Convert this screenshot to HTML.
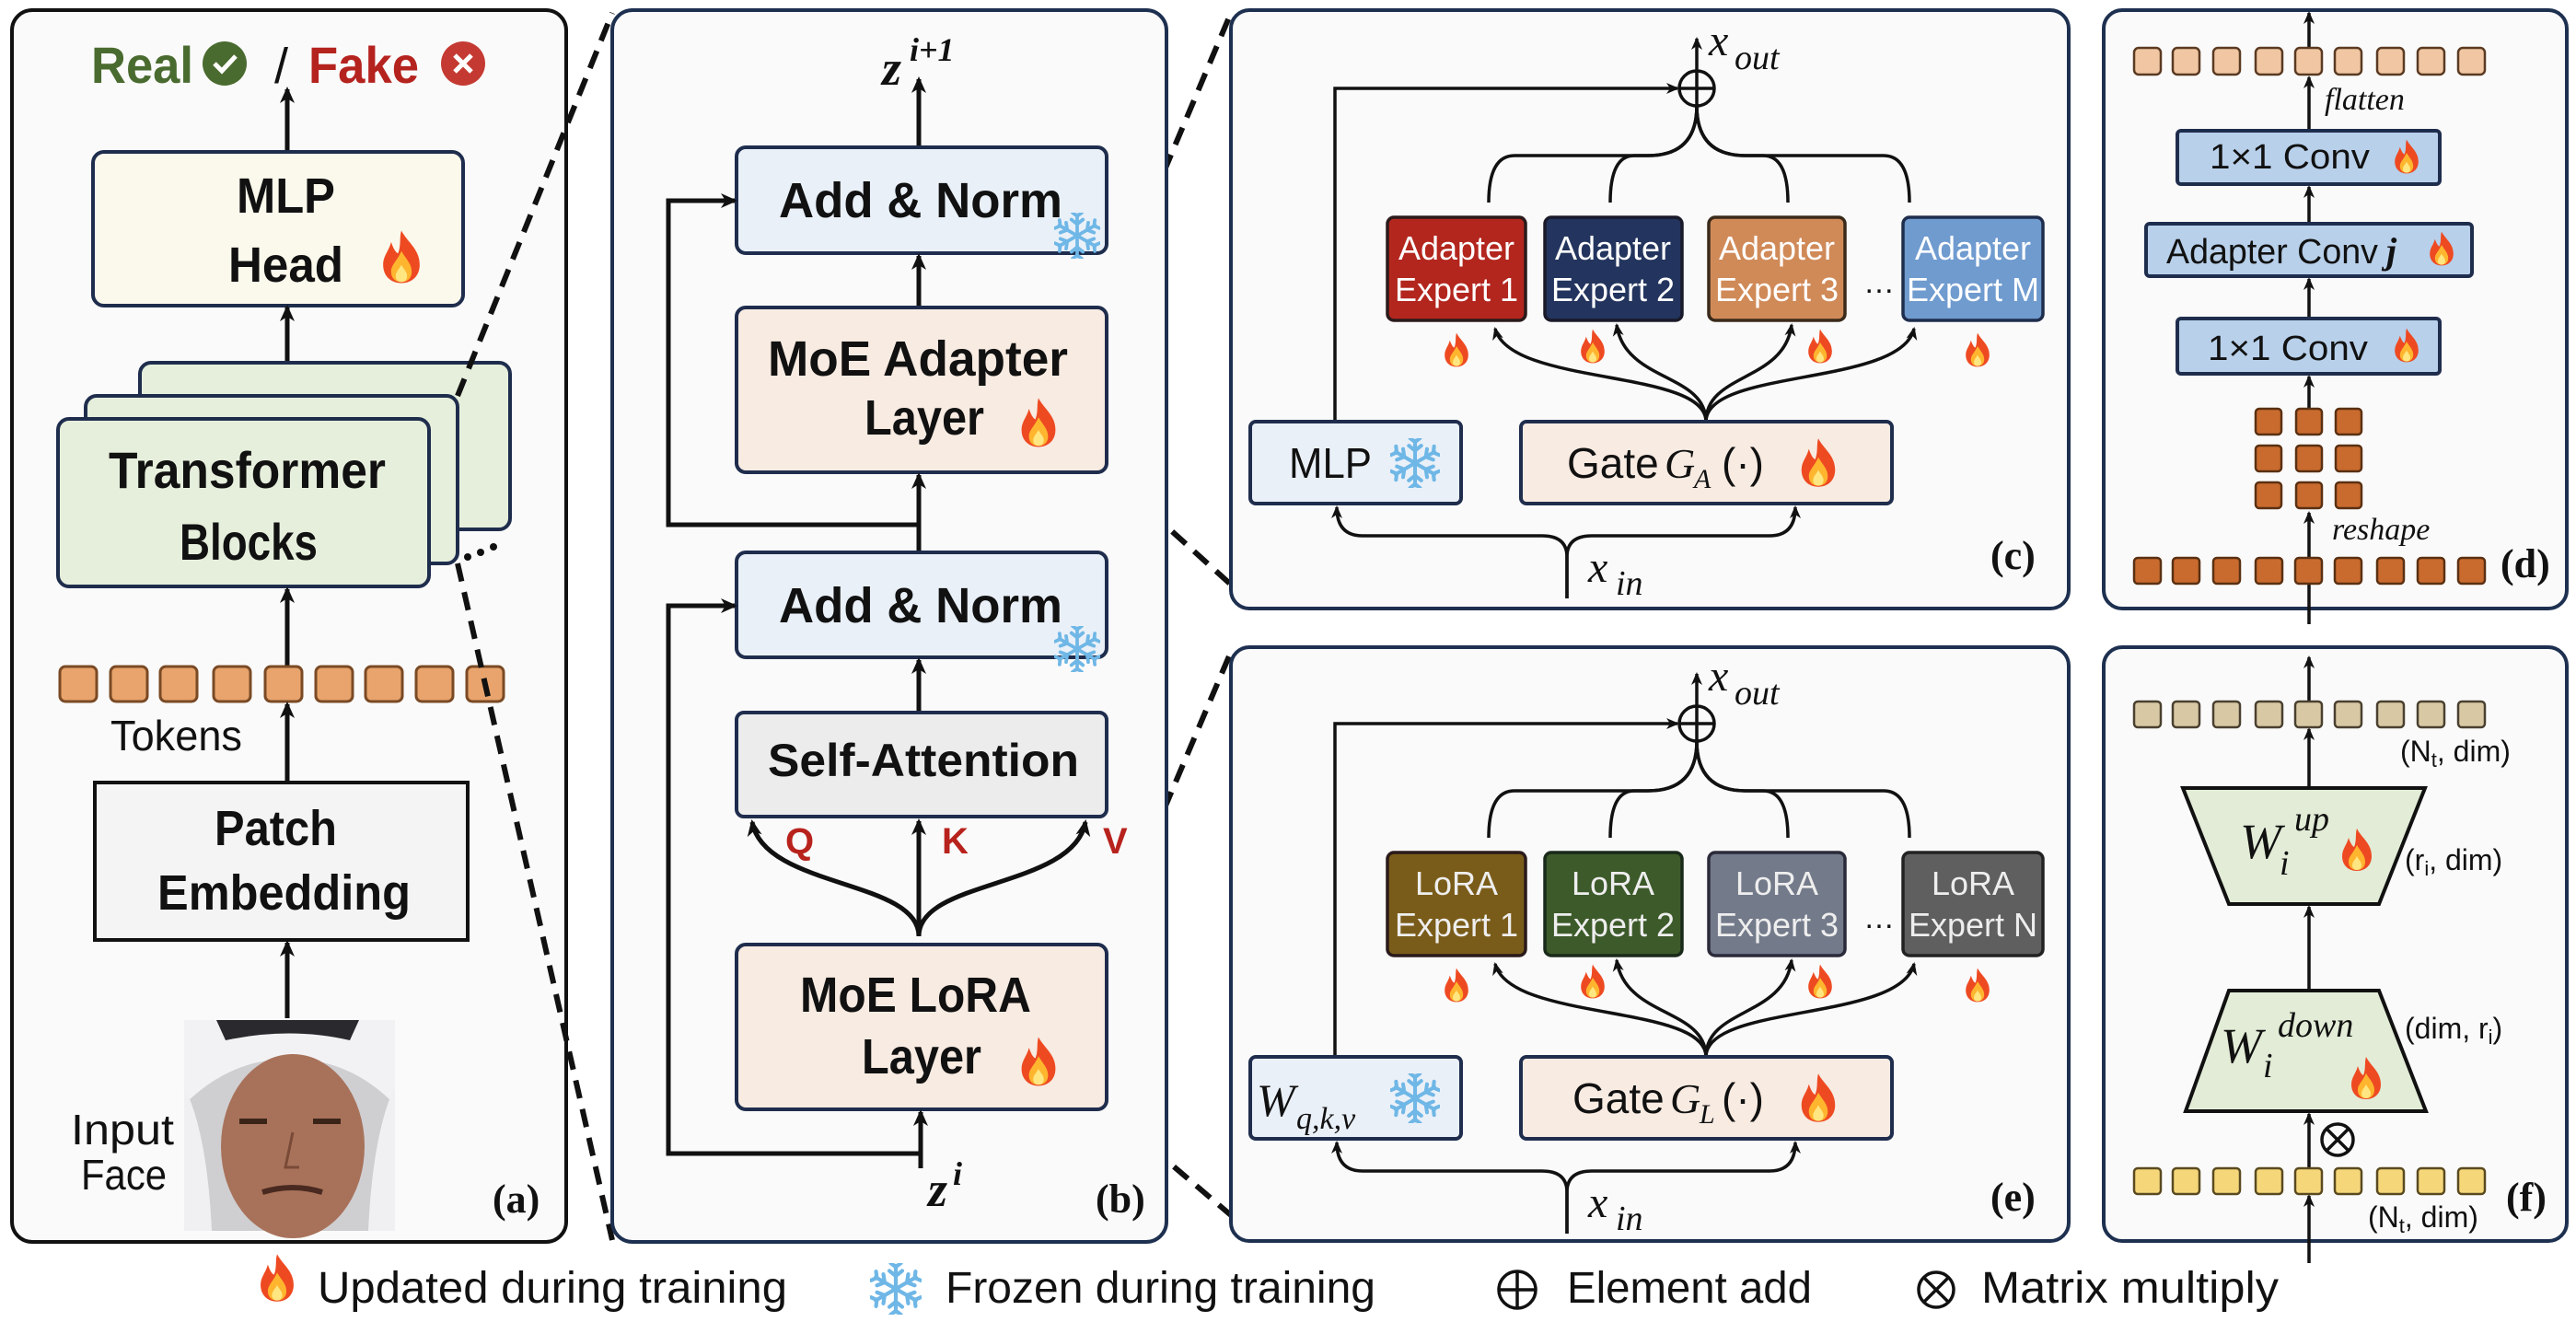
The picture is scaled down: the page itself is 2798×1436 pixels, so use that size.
<!DOCTYPE html>
<html><head><meta charset="utf-8"><style>
html,body{margin:0;padding:0;background:#fff}
svg{display:block}
.b{font-family:"Liberation Sans",sans-serif;font-weight:bold;fill:#111}
.n{font-family:"Liberation Sans",sans-serif;fill:#111}
.m{font-family:"Liberation Serif",serif;font-style:italic;fill:#111}
.s{font-family:"Liberation Serif",serif;font-weight:bold;fill:#111}
</style></head><body>
<svg width="2798" height="1436" viewBox="0 0 2798 1436" xmlns="http://www.w3.org/2000/svg">
<defs>
<marker id="ah" markerWidth="18" markerHeight="18" refX="15" refY="9" orient="auto" markerUnits="userSpaceOnUse"><path d="M0,1 L18,9 L0,17 L5,9 Z" fill="#111"/></marker>
<marker id="as" markerWidth="14" markerHeight="14" refX="12" refY="7" orient="auto" markerUnits="userSpaceOnUse"><path d="M0,1 L14,7 L0,13 L4,7 Z" fill="#111"/></marker>
<symbol id="fl" viewBox="0 0 40 50"><path d="M20 2 C25 12 36 18 36 32 C36 42 29 48 20 48 C11 48 4 42 4 32 C4 24 9 20 11 12 C13 18 15 21 17 22 C20 15 18 8 20 2Z" fill="#ee4a22"/><path d="M20 20 C24 27 29 31 29 38 C29 44 25 47 20 47 C15 47 11 44 11 38 C11 32 16 29 20 20Z" fill="#ffb52e"/><path d="M20 32 C22 36 25 38 25 42 C25 45 23 47 20 47 C17 47 15 45 15 42 C15 38 18 36 20 32Z" fill="#ffe680"/></symbol>
<symbol id="sn" viewBox="-20 -20 40 40"><g stroke="#6fb7e6" stroke-width="3" stroke-linecap="round" fill="none">
<g id="sp"><path d="M0 0 L0 -18 M-5 -14 L0 -10 L5 -14 M-4 -20 L0 -17 L4 -20"/></g>
<use href="#sp" transform="rotate(60)"/><use href="#sp" transform="rotate(120)"/><use href="#sp" transform="rotate(180)"/><use href="#sp" transform="rotate(240)"/><use href="#sp" transform="rotate(300)"/></g></symbol>
</defs>

<!-- ===== Panel a ===== -->
<rect x="13" y="11" width="602" height="1338" rx="22" fill="#fafafa" stroke="#111" stroke-width="4"/>
<text class="b" x="99" y="90" font-size="56" fill="#4a6b2f" style="fill:#4a6b2f" textLength="111" lengthAdjust="spacingAndGlyphs">Real</text>
<circle cx="244" cy="69" r="24" fill="#4a6b2f"/><path d="M233 69 L241 77 L256 61" stroke="#fff" stroke-width="5" fill="none"/>
<text class="n" x="298" y="90" font-size="54">/</text>
<text class="b" x="335" y="90" font-size="56" style="fill:#b5231f" textLength="120" lengthAdjust="spacingAndGlyphs">Fake</text>
<circle cx="503" cy="69" r="24" fill="#c43a32"/><path d="M494 60 L512 78 M512 60 L494 78" stroke="#fff" stroke-width="5"/>
<line x1="312" y1="165" x2="312" y2="97" stroke="#111" stroke-width="5" marker-end="url(#ah)"/>
<rect x="101" y="165" width="402" height="167" rx="12" fill="#fbf9ec" stroke="#1f2d4d" stroke-width="4"/>
<text class="b" x="257" y="231" font-size="54" textLength="107" lengthAdjust="spacingAndGlyphs">MLP</text>
<text class="b" x="248" y="306" font-size="54" textLength="125" lengthAdjust="spacingAndGlyphs">Head</text>
<use href="#fl" x="411" y="248" width="50" height="62"/>
<line x1="312" y1="394" x2="312" y2="334" stroke="#111" stroke-width="5" marker-end="url(#ah)"/>
<rect x="152" y="394" width="402" height="181" rx="12" fill="#e6efdc" stroke="#1f2d4d" stroke-width="4"/>
<rect x="93" y="430" width="404" height="182" rx="12" fill="#e6efdc" stroke="#1f2d4d" stroke-width="4"/>
<rect x="63" y="455" width="403" height="182" rx="12" fill="#e6efdc" stroke="#1f2d4d" stroke-width="4"/>
<text class="b" x="118" y="530" font-size="56" textLength="301" lengthAdjust="spacingAndGlyphs">Transformer</text>
<text class="b" x="195" y="608" font-size="56" textLength="150" lengthAdjust="spacingAndGlyphs">Blocks</text>
<line x1="312" y1="724" x2="312" y2="640" stroke="#111" stroke-width="5" marker-end="url(#ah)"/>
<g fill="#e8a46c" stroke="#7a4a25" stroke-width="3">
<rect x="65" y="724" width="40" height="38" rx="6"/><rect x="120" y="724" width="40" height="38" rx="6"/><rect x="174" y="724" width="40" height="38" rx="6"/><rect x="232" y="724" width="40" height="38" rx="6"/><rect x="288" y="724" width="40" height="38" rx="6"/><rect x="343" y="724" width="40" height="38" rx="6"/><rect x="397" y="724" width="40" height="38" rx="6"/><rect x="452" y="724" width="40" height="38" rx="6"/><rect x="507" y="724" width="40" height="38" rx="6"/></g>
<text class="n" x="120" y="815" font-size="46" textLength="143" lengthAdjust="spacingAndGlyphs">Tokens</text>
<line x1="312" y1="850" x2="312" y2="765" stroke="#111" stroke-width="5" marker-end="url(#ah)"/>
<rect x="103" y="850" width="405" height="171" fill="#f4f4f4" stroke="#111" stroke-width="4"/>
<text class="b" x="233" y="918" font-size="54" textLength="133" lengthAdjust="spacingAndGlyphs">Patch</text>
<text class="b" x="171" y="988" font-size="54" textLength="275" lengthAdjust="spacingAndGlyphs">Embedding</text>
<line x1="312" y1="1106" x2="312" y2="1024" stroke="#111" stroke-width="5" marker-end="url(#ah)"/>
<!-- face -->
<g>
<rect x="200" y="1108" width="229" height="229" fill="#cfcfd2"/>
<path d="M200 1108 H429 V1200 Q380 1150 315 1150 Q250 1150 200 1200 Z" fill="#f2f2f4"/>
<path d="M235 1108 H390 L380 1130 Q315 1115 245 1130 Z" fill="#2a2a2e"/>
<ellipse cx="318" cy="1245" rx="78" ry="100" fill="#a8725a"/>
<path d="M200 1180 Q225 1230 230 1337 H200 Z M429 1180 Q405 1230 400 1337 H429 Z" fill="#f0f0f2"/>
<path d="M260 1218 h30 M340 1218 h30" stroke="#3a2418" stroke-width="6"/>
<path d="M285 1295 Q318 1285 350 1295" stroke="#4a2a20" stroke-width="6" fill="none"/>
<path d="M318 1230 L310 1268 L325 1268" stroke="#7a4a38" stroke-width="3" fill="none"/>
</g>
<text class="n" x="77" y="1243" font-size="46" textLength="112" lengthAdjust="spacingAndGlyphs">Input</text>
<text class="n" x="88" y="1292" font-size="46" textLength="93" lengthAdjust="spacingAndGlyphs">Face</text>
<text class="s" x="535" y="1317" font-size="44">(a)</text>

<!-- dashed a->b -->
<g stroke="#111" stroke-width="6" stroke-dasharray="20 12" fill="none">
<line x1="497" y1="430" x2="665" y2="14"/>
<line x1="497" y1="612" x2="665" y2="1347"/>
<line x1="1202" y1="334" x2="1337" y2="14"/>
<line x1="1202" y1="513" x2="1337" y2="635"/>
<line x1="1202" y1="1026" x2="1337" y2="708"/>
<line x1="1202" y1="1205" x2="1337" y2="1320"/>
</g>
<g fill="#111"><circle cx="508" cy="605" r="4"/><circle cx="522" cy="600" r="4"/><circle cx="536" cy="594" r="4"/></g>

<!-- ===== Panel b ===== -->
<rect x="665" y="11" width="602" height="1338" rx="22" fill="#fafafa" stroke="#1e3050" stroke-width="4"/>
<text class="m" x="958" y="92" font-size="54" font-weight="bold">z</text>
<text class="m" x="988" y="66" font-size="36" font-weight="bold">i+1</text>
<line x1="998" y1="160" x2="998" y2="86" stroke="#111" stroke-width="5" marker-end="url(#ah)"/>
<rect x="800" y="160" width="402" height="115" rx="10" fill="#e9f0f8" stroke="#1f2d4d" stroke-width="4"/>
<text class="b" x="846" y="236" font-size="54" textLength="308" lengthAdjust="spacingAndGlyphs">Add &amp; Norm</text>
<use href="#sn" x="1145" y="231" width="50" height="50"/>
<line x1="998" y1="334" x2="998" y2="278" stroke="#111" stroke-width="5" marker-end="url(#ah)"/>
<rect x="800" y="334" width="402" height="179" rx="10" fill="#f8ebe2" stroke="#1f2d4d" stroke-width="4"/>
<text class="b" x="834" y="408" font-size="54" textLength="326" lengthAdjust="spacingAndGlyphs">MoE Adapter</text>
<text class="b" x="939" y="472" font-size="54" textLength="130" lengthAdjust="spacingAndGlyphs">Layer</text>
<use href="#fl" x="1105" y="430" width="46" height="58"/>
<polyline points="998,570 726,570 726,218 798,218" fill="none" stroke="#111" stroke-width="5" marker-end="url(#ah)"/>
<line x1="998" y1="600" x2="998" y2="516" stroke="#111" stroke-width="5" marker-end="url(#ah)"/>
<rect x="800" y="600" width="402" height="114" rx="10" fill="#e9f0f8" stroke="#1f2d4d" stroke-width="4"/>
<text class="b" x="846" y="676" font-size="54" textLength="308" lengthAdjust="spacingAndGlyphs">Add &amp; Norm</text>
<use href="#sn" x="1145" y="680" width="50" height="50"/>
<line x1="998" y1="774" x2="998" y2="717" stroke="#111" stroke-width="5" marker-end="url(#ah)"/>
<rect x="800" y="774" width="402" height="113" rx="8" fill="#ececec" stroke="#1f2d4d" stroke-width="4"/>
<text class="b" x="834" y="843" font-size="50" textLength="338" lengthAdjust="spacingAndGlyphs">Self-Attention</text>
<g fill="none" stroke="#111" stroke-width="5">
<path d="M998 1017 C998 955 830 965 817 893" marker-end="url(#ah)"/>
<path d="M998 1017 L998 892" marker-end="url(#ah)"/>
<path d="M998 1017 C998 955 1166 965 1179 893" marker-end="url(#ah)"/>
</g>
<text class="b" x="853" y="927" font-size="40" style="fill:#b8221c">Q</text>
<text class="b" x="1023" y="927" font-size="40" style="fill:#b8221c">K</text>
<text class="b" x="1198" y="927" font-size="40" style="fill:#b8221c">V</text>
<rect x="800" y="1026" width="402" height="179" rx="10" fill="#f8ebe2" stroke="#1f2d4d" stroke-width="4"/>
<text class="b" x="869" y="1099" font-size="54" textLength="251" lengthAdjust="spacingAndGlyphs">MoE LoRA</text>
<text class="b" x="936" y="1166" font-size="54" textLength="130" lengthAdjust="spacingAndGlyphs">Layer</text>
<use href="#fl" x="1105" y="1124" width="46" height="58"/>
<line x1="1000" y1="1269" x2="1000" y2="1208" stroke="#111" stroke-width="5" marker-end="url(#ah)"/>
<polyline points="1000,1253 726,1253 726,658 798,658" fill="none" stroke="#111" stroke-width="5" marker-end="url(#ah)"/>
<text class="m" x="1008" y="1310" font-size="54" font-weight="bold">z</text>
<text class="m" x="1035" y="1287" font-size="36" font-weight="bold">i</text>
<text class="s" x="1190" y="1317" font-size="44">(b)</text>

<!-- ===== Panel c ===== -->
<rect x="1337" y="11" width="910" height="650" rx="20" fill="#fafafa" stroke="#1e3050" stroke-width="4"/>
<g id="moe">
<circle cx="1843" cy="96" r="19" fill="none" stroke="#111" stroke-width="3.5"/>
<path d="M1824 96 H1862 M1843 77 V115" stroke="#111" stroke-width="3.5"/>
<line x1="1843" y1="77" x2="1843" y2="42" stroke="#111" stroke-width="3.5" marker-end="url(#as)"/>
<polyline points="1450,458 1450,96 1822,96" fill="none" stroke="#111" stroke-width="3.5" marker-end="url(#as)"/>
<g fill="none" stroke="#111" stroke-width="3.5">
<path d="M1843 115 Q1843 169 1790 169 H1645 Q1617 169 1617 220"/>
<path d="M1843 115 Q1843 169 1790 169 H1775 Q1749 169 1749 220"/>
<path d="M1843 115 Q1843 169 1896 169 H1915 Q1942 169 1942 220"/>
<path d="M1843 115 Q1843 169 1896 169 H2046 Q2074 169 2074 220"/>
<path d="M1853 458 C1853 400 1640 420 1624 357" marker-end="url(#as)"/>
<path d="M1853 458 C1853 405 1765 415 1756 353" marker-end="url(#as)"/>
<path d="M1853 458 C1853 405 1938 415 1946 353" marker-end="url(#as)"/>
<path d="M1853 458 C1853 400 2065 420 2079 357" marker-end="url(#as)"/>
<path d="M1702 650 V605 Q1702 582 1675 582 H1480 Q1452 582 1452 551" marker-end="url(#as)"/>
<path d="M1702 650 V605 Q1702 582 1729 582 H1922 Q1950 582 1950 551" marker-end="url(#as)"/>
</g>
<text class="m" x="1856" y="60" font-size="48">x</text><text class="m" x="1884" y="75" font-size="38">out</text>
<text class="m" x="1725" y="632" font-size="48">x</text><text class="m" x="1755" y="646" font-size="38">in</text>
<text class="n" x="2024" y="318" font-size="34">…</text>
<use href="#fl" x="1566" y="360" width="32" height="40"/><use href="#fl" x="1714" y="356" width="32" height="40"/><use href="#fl" x="1961" y="356" width="32" height="40"/><use href="#fl" x="2132" y="360" width="32" height="40"/>
<rect x="1652" y="458" width="403" height="89" rx="6" fill="#f8ebe2" stroke="#1f2d4d" stroke-width="4"/>
<use href="#fl" x="1952" y="474" width="46" height="57"/>
</g>
<rect x="1507" y="236" width="150" height="112" rx="7" fill="#b3261e" stroke="#2a1a1a" stroke-width="3.5"/>
<rect x="1678" y="236" width="149" height="112" rx="7" fill="#23355e" stroke="#1a1a2a" stroke-width="3.5"/>
<rect x="1856" y="236" width="148" height="112" rx="7" fill="#d08a58" stroke="#3a2a1a" stroke-width="3.5"/>
<rect x="2067" y="236" width="152" height="112" rx="7" fill="#6f9bcf" stroke="#1f2d4d" stroke-width="3.5"/>
<g class="n" font-size="36" style="fill:#fff" text-anchor="middle">
<text x="1582" y="282" style="fill:#fff">Adapter</text><text x="1582" y="327" style="fill:#fff">Expert 1</text>
<text x="1752" y="282" style="fill:#fff">Adapter</text><text x="1752" y="327" style="fill:#fff">Expert 2</text>
<text x="1930" y="282" style="fill:#fff">Adapter</text><text x="1930" y="327" style="fill:#fff">Expert 3</text>
<text x="2143" y="282" style="fill:#fff">Adapter</text><text x="2143" y="327" style="fill:#fff">Expert M</text>
</g>
<rect x="1358" y="458" width="229" height="89" rx="6" fill="#eaf0f8" stroke="#1f2d4d" stroke-width="4"/>
<text class="n" x="1400" y="519" font-size="46" textLength="90" lengthAdjust="spacingAndGlyphs">MLP</text>
<use href="#sn" x="1510" y="476" width="54" height="54"/>
<text class="n" x="1702" y="519" font-size="46">Gate</text>
<text class="m" x="1808" y="519" font-size="46">G</text><text class="m" x="1840" y="530" font-size="30">A</text>
<text class="n" x="1870" y="519" font-size="46">(·)</text>
<text class="s" x="2162" y="618" font-size="44">(c)</text>

<!-- ===== Panel e ===== -->
<rect x="1337" y="703" width="910" height="645" rx="20" fill="#fafafa" stroke="#1e3050" stroke-width="4"/>
<use href="#moe" transform="translate(0,690)"/>
<rect x="1507" y="926" width="150" height="112" rx="7" fill="#7a5c1a" stroke="#2a1a1a" stroke-width="3.5"/>
<rect x="1678" y="926" width="149" height="112" rx="7" fill="#3d5a2a" stroke="#1a2a1a" stroke-width="3.5"/>
<rect x="1856" y="926" width="148" height="112" rx="7" fill="#737a8a" stroke="#2a2a3a" stroke-width="3.5"/>
<rect x="2067" y="926" width="152" height="112" rx="7" fill="#5f5f5f" stroke="#222" stroke-width="3.5"/>
<g class="n" font-size="36" text-anchor="middle">
<text x="1582" y="972" style="fill:#eee">LoRA</text><text x="1582" y="1017" style="fill:#eee">Expert 1</text>
<text x="1752" y="972" style="fill:#eee">LoRA</text><text x="1752" y="1017" style="fill:#eee">Expert 2</text>
<text x="1930" y="972" style="fill:#eee">LoRA</text><text x="1930" y="1017" style="fill:#eee">Expert 3</text>
<text x="2143" y="972" style="fill:#eee">LoRA</text><text x="2143" y="1017" style="fill:#eee">Expert N</text>
</g>
<rect x="1358" y="1148" width="229" height="89" rx="6" fill="#eaf0f8" stroke="#1f2d4d" stroke-width="4"/>
<text class="m" x="1365" y="1212" font-size="50">W</text><text class="m" x="1408" y="1226" font-size="34">q,k,v</text>
<use href="#sn" x="1510" y="1166" width="54" height="54"/>
<text class="n" x="1708" y="1209" font-size="46">Gate</text>
<text class="m" x="1814" y="1209" font-size="46">G</text><text class="m" x="1846" y="1220" font-size="30">L</text>
<text class="n" x="1870" y="1209" font-size="46">(·)</text>
<text class="s" x="2162" y="1315" font-size="44">(e)</text>

<!-- ===== Panel d ===== -->
<rect x="2285" y="11" width="503" height="650" rx="20" fill="#fafafa" stroke="#1e3050" stroke-width="4"/>
<line x1="2508" y1="678" x2="2508" y2="557" stroke="#111" stroke-width="3.5" marker-end="url(#as)"/>
<line x1="2508" y1="444" x2="2508" y2="409" stroke="#111" stroke-width="3.5" marker-end="url(#as)"/>
<line x1="2508" y1="346" x2="2508" y2="303" stroke="#111" stroke-width="3.5" marker-end="url(#as)"/>
<line x1="2508" y1="243" x2="2508" y2="203" stroke="#111" stroke-width="3.5" marker-end="url(#as)"/>
<line x1="2508" y1="142" x2="2508" y2="84" stroke="#111" stroke-width="3.5" marker-end="url(#as)"/>
<line x1="2508" y1="66" x2="2508" y2="14" stroke="#111" stroke-width="3.5" marker-end="url(#as)"/>
<g fill="#f0c6a3" stroke="#5a3a22" stroke-width="2.5">
<rect x="2318" y="52" width="29" height="29" rx="5"/><rect x="2360" y="52" width="29" height="29" rx="5"/><rect x="2404" y="52" width="29" height="29" rx="5"/><rect x="2450" y="52" width="29" height="29" rx="5"/><rect x="2493" y="52" width="29" height="29" rx="5"/><rect x="2536" y="52" width="29" height="29" rx="5"/><rect x="2582" y="52" width="29" height="29" rx="5"/><rect x="2626" y="52" width="29" height="29" rx="5"/><rect x="2670" y="52" width="29" height="29" rx="5"/></g>
<text class="m" x="2525" y="119" font-size="34">flatten</text>
<rect x="2365" y="142" width="285" height="58" rx="4" fill="#b8d0ea" stroke="#1f2d4d" stroke-width="4"/>
<text class="n" x="2400" y="183" font-size="38" textLength="174" lengthAdjust="spacingAndGlyphs">1×1 Conv</text>
<use href="#fl" x="2598" y="150" width="32" height="40"/>
<rect x="2331" y="243" width="354" height="57" rx="4" fill="#b8d0ea" stroke="#1f2d4d" stroke-width="4"/>
<text class="n" x="2353" y="286" font-size="38" textLength="230" lengthAdjust="spacingAndGlyphs">Adapter Conv</text>
<text class="m" x="2592" y="286" font-size="40" font-weight="bold">j</text>
<use href="#fl" x="2636" y="250" width="32" height="40"/>
<rect x="2365" y="346" width="285" height="60" rx="4" fill="#b8d0ea" stroke="#1f2d4d" stroke-width="4"/>
<text class="n" x="2398" y="391" font-size="38" textLength="174" lengthAdjust="spacingAndGlyphs">1×1 Conv</text>
<use href="#fl" x="2598" y="355" width="32" height="40"/>
<g fill="#c96a2e" stroke="#5a3012" stroke-width="2.5">
<rect x="2450" y="444" width="28" height="28" rx="4"/><rect x="2494" y="444" width="28" height="28" rx="4"/><rect x="2537" y="444" width="28" height="28" rx="4"/>
<rect x="2450" y="484" width="28" height="28" rx="4"/><rect x="2494" y="484" width="28" height="28" rx="4"/><rect x="2537" y="484" width="28" height="28" rx="4"/>
<rect x="2450" y="524" width="28" height="28" rx="4"/><rect x="2494" y="524" width="28" height="28" rx="4"/><rect x="2537" y="524" width="28" height="28" rx="4"/>
<rect x="2318" y="606" width="29" height="28" rx="4"/><rect x="2360" y="606" width="29" height="28" rx="4"/><rect x="2404" y="606" width="29" height="28" rx="4"/><rect x="2450" y="606" width="29" height="28" rx="4"/><rect x="2493" y="606" width="29" height="28" rx="4"/><rect x="2536" y="606" width="29" height="28" rx="4"/><rect x="2582" y="606" width="29" height="28" rx="4"/><rect x="2626" y="606" width="29" height="28" rx="4"/><rect x="2670" y="606" width="29" height="28" rx="4"/></g>
<text class="m" x="2533" y="586" font-size="34">reshape</text>
<text class="s" x="2716" y="627" font-size="44">(d)</text>

<!-- ===== Panel f ===== -->
<rect x="2285" y="703" width="503" height="645" rx="20" fill="#fafafa" stroke="#1e3050" stroke-width="4"/>
<line x1="2508" y1="1372" x2="2508" y2="1299" stroke="#111" stroke-width="3.5" marker-end="url(#as)"/>
<line x1="2508" y1="1269" x2="2508" y2="1210" stroke="#111" stroke-width="3.5" marker-end="url(#as)"/>
<line x1="2508" y1="1076" x2="2508" y2="985" stroke="#111" stroke-width="3.5" marker-end="url(#as)"/>
<line x1="2508" y1="856" x2="2508" y2="792" stroke="#111" stroke-width="3.5" marker-end="url(#as)"/>
<line x1="2508" y1="762" x2="2508" y2="714" stroke="#111" stroke-width="3.5" marker-end="url(#as)"/>
<g fill="#d8c9a4" stroke="#4a4030" stroke-width="2.5">
<rect x="2318" y="762" width="29" height="28" rx="4"/><rect x="2360" y="762" width="29" height="28" rx="4"/><rect x="2404" y="762" width="29" height="28" rx="4"/><rect x="2450" y="762" width="29" height="28" rx="4"/><rect x="2493" y="762" width="29" height="28" rx="4"/><rect x="2536" y="762" width="29" height="28" rx="4"/><rect x="2582" y="762" width="29" height="28" rx="4"/><rect x="2626" y="762" width="29" height="28" rx="4"/><rect x="2670" y="762" width="29" height="28" rx="4"/></g>
<text class="n" x="2607" y="827" font-size="32">(N<tspan font-size="22" dy="6">t</tspan><tspan dy="-6">, dim)</tspan></text>
<polygon points="2371,856 2634,856 2584,982 2421,982" fill="#e2ecd6" stroke="#111" stroke-width="4"/>
<text class="m" x="2433" y="932" font-size="54">W</text><text class="m" x="2476" y="950" font-size="38">i</text><text class="m" x="2492" y="902" font-size="38">up</text>
<use href="#fl" x="2540" y="898" width="40" height="50"/>
<text class="n" x="2612" y="945" font-size="32">(r<tspan font-size="22" dy="6">i</tspan><tspan dy="-6">, dim)</tspan></text>
<polygon points="2421,1076 2584,1076 2635,1207 2374,1207" fill="#e2ecd6" stroke="#111" stroke-width="4"/>
<text class="m" x="2412" y="1154" font-size="54">W</text><text class="m" x="2458" y="1170" font-size="38">i</text><text class="m" x="2474" y="1126" font-size="38">down</text>
<use href="#fl" x="2550" y="1146" width="40" height="50"/>
<text class="n" x="2612" y="1128" font-size="32">(dim, r<tspan font-size="22" dy="6">i</tspan><tspan dy="-6">)</tspan></text>
<circle cx="2539" cy="1238" r="17" fill="none" stroke="#111" stroke-width="3.5"/>
<path d="M2527 1226 L2551 1250 M2551 1226 L2527 1250" stroke="#111" stroke-width="3.5"/>
<g fill="#f5d77a" stroke="#5a4a20" stroke-width="2.5">
<rect x="2318" y="1269" width="29" height="28" rx="4"/><rect x="2360" y="1269" width="29" height="28" rx="4"/><rect x="2404" y="1269" width="29" height="28" rx="4"/><rect x="2450" y="1269" width="29" height="28" rx="4"/><rect x="2493" y="1269" width="29" height="28" rx="4"/><rect x="2536" y="1269" width="29" height="28" rx="4"/><rect x="2582" y="1269" width="29" height="28" rx="4"/><rect x="2626" y="1269" width="29" height="28" rx="4"/><rect x="2670" y="1269" width="29" height="28" rx="4"/></g>
<text class="n" x="2572" y="1333" font-size="32">(N<tspan font-size="22" dy="6">t</tspan><tspan dy="-6">, dim)</tspan></text>
<text class="s" x="2722" y="1315" font-size="44">(f)</text>

<!-- ===== Legend ===== -->
<use href="#fl" x="278" y="1360" width="46" height="56"/>
<text class="n" x="345" y="1415" font-size="48" textLength="510" lengthAdjust="spacingAndGlyphs">Updated during training</text>
<use href="#sn" x="945" y="1372" width="56" height="56"/>
<text class="n" x="1027" y="1415" font-size="48" textLength="467" lengthAdjust="spacingAndGlyphs">Frozen during training</text>
<circle cx="1648" cy="1401" r="20" fill="none" stroke="#111" stroke-width="3.5"/>
<path d="M1628 1401 H1668 M1648 1381 V1421" stroke="#111" stroke-width="3.5"/>
<text class="n" x="1702" y="1415" font-size="48" textLength="266" lengthAdjust="spacingAndGlyphs">Element add</text>
<circle cx="2103" cy="1401" r="19" fill="none" stroke="#111" stroke-width="3.5"/>
<path d="M2090 1388 L2116 1414 M2116 1388 L2090 1414" stroke="#111" stroke-width="3.5"/>
<text class="n" x="2152" y="1415" font-size="48" textLength="323" lengthAdjust="spacingAndGlyphs">Matrix multiply</text>
</svg>
</body></html>
